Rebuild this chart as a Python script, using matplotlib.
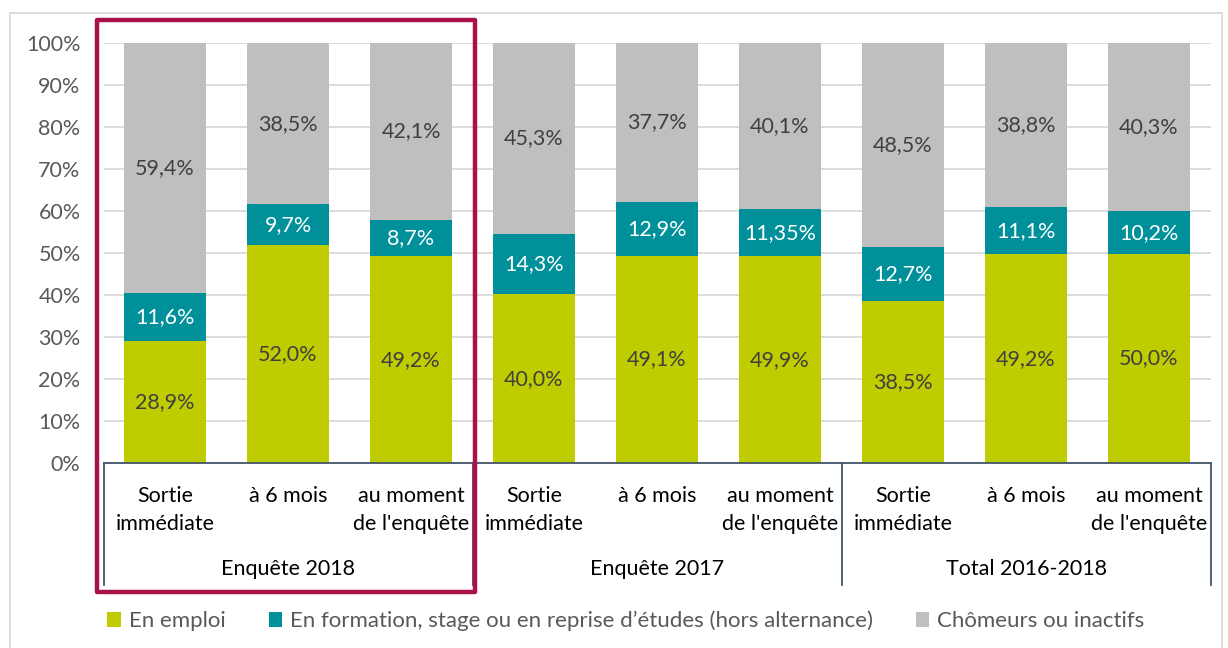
import numpy as np
import matplotlib.pyplot as plt
from matplotlib.patches import Patch, Rectangle
from matplotlib.transforms import blended_transform_factory

plt.rcParams['font.family'] = ['Lato', 'DejaVu Sans']

# donnees
categories = ['Sortie\nimmédiate', 'à 6 mois', "au moment\nde l'enquête"] * 3
groupes = ['Enquête 2018', 'Enquête 2017', 'Total 2016-2018']
emploi = [28.9, 52.0, 49.2, 40.0, 49.1, 49.9, 38.5, 49.2, 50.0]
formation = [11.6, 9.7, 8.7, 14.3, 12.9, 11.35, 12.7, 11.1, 10.2]
chomeurs = [59.4, 38.5, 42.1, 45.3, 37.7, 40.1, 48.5, 38.8, 40.3]
series = ['En emploi',
          'En formation, stage ou en reprise d\u2019études (hors alternance)',
          'Chômeurs ou inactifs']
couleurs = ['#BFCC00', '#00909A', '#BFBFBF']
couleurs_txt = ['#404040', '#FFFFFF', '#404040']

valeurs = np.array([emploi, formation, chomeurs])
parts = valeurs / valeurs.sum(axis=0) * 100  # barres empilees a 100%

fs = 15.5
fig = plt.figure(figsize=(12.28, 6.48), dpi=100)
ax = fig.add_axes([103.5/1228, 1-463/648, 1107/1228, 420/648])

x = np.arange(len(emploi))
bas = np.zeros(len(x))
for k in range(3):
    ax.bar(x, parts[k], 0.667, bottom=bas, color=couleurs[k], zorder=2)
    for i in range(len(x)):
        lab = ('%g' % valeurs[k, i]) if k == 1 and i == 5 else '%.1f' % valeurs[k, i]
        ax.text(x[i], bas[i] + parts[k, i]/2, lab.replace('.', ',') + '%',
                ha='center', va='center', fontsize=fs, color=couleurs_txt[k], zorder=3)
    bas = bas + parts[k]

ax.set_xlim(-0.5, len(x) - 0.5)
ax.set_ylim(0, 100)
ax.set_yticks(np.arange(0, 101, 10))
ax.set_yticklabels(['%d%%' % v for v in range(0, 101, 10)], fontsize=fs, color='#595959')
ax.tick_params(axis='y', length=0, pad=16.5)
ax.set_xticks([])
ax.yaxis.grid(True, color='#D9D9D9', lw=1.3, zorder=0)
for s in ax.spines.values():
    s.set_visible(False)

# axe des categories a deux niveaux
tr = blended_transform_factory(ax.transData, ax.transAxes)
ax.plot([-0.5, len(x) - 0.5], [0, 0], color='#44546A', lw=1.3, transform=tr, clip_on=False, zorder=4)
for xs in [-0.5, 2.5, 5.5, 8.5]:
    ax.plot([xs, xs], [0, -0.29], color='#44546A', lw=1.3, transform=tr, clip_on=False)
for i in range(len(x)):
    for j, ligne in enumerate(categories[i].split('\n')):
        ax.text(x[i], -0.0775 - 0.0667*j, ligne, ha='center', va='center', fontsize=fs,
                color='#000000', transform=tr)
for g in range(3):
    ax.text(3*g + 1, -0.252, groupes[g], ha='center', va='center', fontsize=fs,
            color='#000000', transform=tr)

# cadre rouge autour de l'enquete 2018
ax.add_patch(Rectangle((-0.553, -0.307), 3.07, 1.362, transform=tr, fill=False,
                       edgecolor='#A8114A', lw=3.2, joinstyle='round', clip_on=False, zorder=5))

# bordure du graphique
fig.patches.append(Rectangle((10/1228, -0.05), 1212/1228, 1 - 13/648 + 0.05,
                             transform=fig.transFigure, fill=False, edgecolor='#D9D9D9', lw=1.3))

poignees = [Patch(facecolor=c, edgecolor='none') for c in couleurs]
fig.legend(poignees, series, loc='center', bbox_to_anchor=(626/1228, 1 - 621/648), ncol=3,
           frameon=False, fontsize=16, labelcolor='#595959', handlelength=0.6,
           handleheight=0.6, handletextpad=0.35, columnspacing=1.95)

fig.savefig('out.png', dpi=100)
